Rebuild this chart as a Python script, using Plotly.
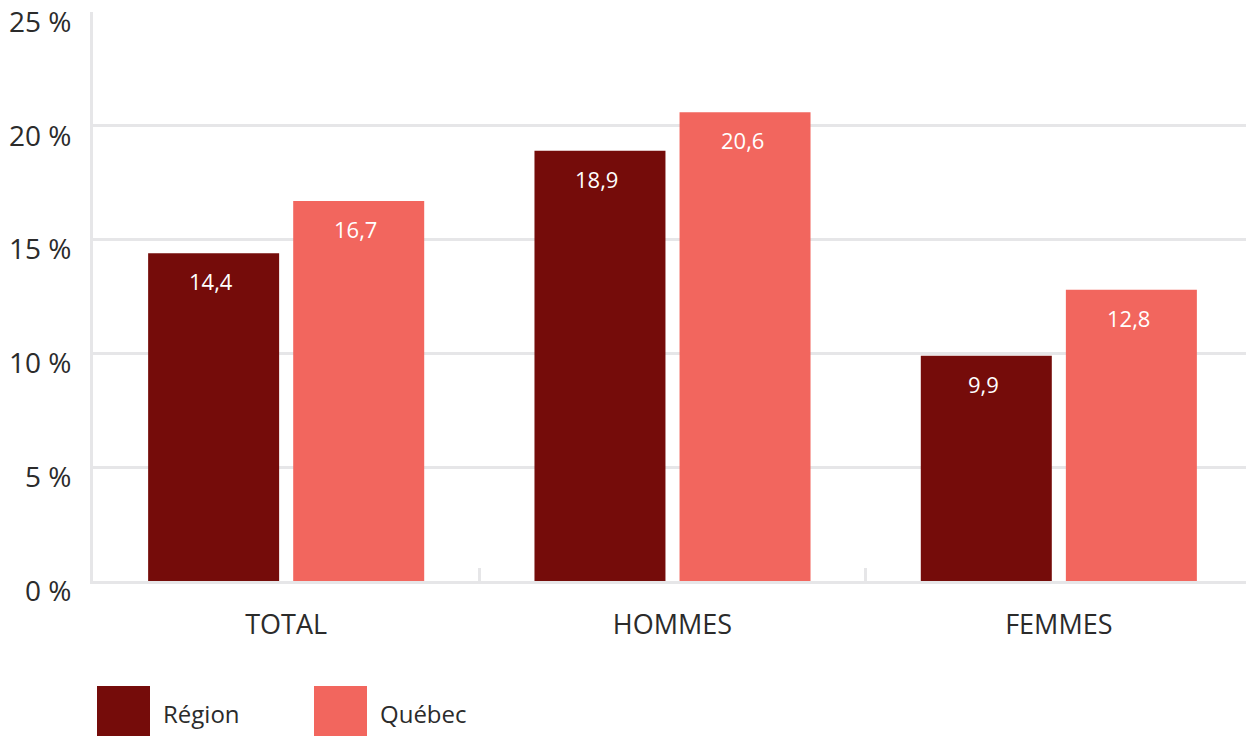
import plotly.graph_objects as go

categories = ["TOTAL", "HOMMES", "FEMMES"]
series_names = ["Région", "Québec"]
region_values = [14.4, 18.9, 9.9]
quebec_values = [16.7, 20.6, 12.8]
y_ticks = [0, 5, 10, 15, 20, 25]
y_tick_labels = [f"{v} %" for v in y_ticks]

colors = ["#750c0a", "#f2665e"]
FONT = "Open Sans"
TXT = "#2b2b2b"
GRID = "#e6e6e8"

# figure sits at (8, 8) in the page because of the default body margin
W, H = 1246, 728
ML, MR, MT, MB = 85, 2, 4, 155

fig = go.Figure()
for name, vals, col in zip(series_names, [region_values, quebec_values], colors):
    fig.add_trace(go.Bar(x=categories, y=vals, name=name, marker_color=col,
                         marker_line_width=0, showlegend=False))

plot_w = W - ML - MR
plot_h = H - MT - MB
cat_w = plot_w / len(categories)
bargap = 0.249
slot = cat_w * (1 - bargap) / 2
for i, vals in enumerate([region_values, quebec_values]):
    shift = (i - 0.5) * slot - 3
    for c, v in zip(categories, vals):
        fig.add_annotation(x=c, y=v, xref="x", yref="y", text=f"{v:.1f}".replace(".", ","),
                           showarrow=False, xshift=shift, yshift=-28, yanchor="middle",
                           font=dict(family=FONT, size=22, color="white"))

def px_x(px):
    return (px - ML) / plot_w

def px_y(py):
    return (H - MB - py) / plot_h

legend_x = [89, 306]
for name, col, lx in zip(series_names, colors, legend_x):
    fig.add_shape(type="rect", xref="paper", yref="paper",
                  x0=px_x(lx), x1=px_x(lx + 53), y0=px_y(678), y1=px_y(740),
                  fillcolor=col, line_width=0)
    fig.add_annotation(xref="paper", yref="paper", x=px_x(lx + 64), y=px_y(705),
                       text=name, showarrow=False, xanchor="left", yanchor="middle",
                       font=dict(family=FONT, size=24, color=TXT))

fig.update_layout(
    width=W, height=H,
    margin=dict(l=ML, r=MR, t=MT, b=MB, autoexpand=False),
    paper_bgcolor="white", plot_bgcolor="white",
    barmode="group", bargap=bargap, bargroupgap=0.097,
    font=dict(family=FONT, size=27, color=TXT),
)
fig.update_yaxes(range=[0, 25], tickmode="array", tickvals=y_ticks, ticktext=y_tick_labels,
                 automargin=False,
                 showgrid=True, gridcolor=GRID, gridwidth=3,
                 showline=True, linecolor=GRID, linewidth=3,
                 zeroline=False, ticks="", ticklabelstandoff=13, ticklabelshift=10,
                 ticklabeloverflow="allow",
                 tickfont=dict(family=FONT, size=28, color=TXT))
fig.update_xaxes(showline=True, linecolor=GRID, linewidth=3, automargin=False,
                 tickson="boundaries", ticks="inside", ticklen=13, tickwidth=3, tickcolor=GRID,
                 ticklabelstandoff=18, showgrid=False,
                 tickfont=dict(family=FONT, size=27, color=TXT))

fig.write_html("out.html")
